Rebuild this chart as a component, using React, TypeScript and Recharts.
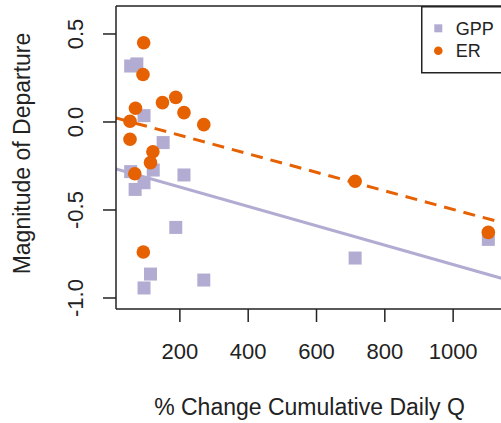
import React from 'react';
import {
  ComposedChart,
  Scatter,
  XAxis,
  YAxis,
  ReferenceLine,
} from 'recharts';

const seriesNames = ['GPP', 'ER'];

const gppX = [56, 74, 95, 151, 56, 122, 212, 95, 69, 188, 114, 95, 270, 713, 1103];
const gppY = [0.318, 0.33, 0.036, -0.117, -0.282, -0.273, -0.301, -0.345, -0.383, -0.599, -0.864, -0.943, -0.898, -0.773, -0.667];

const erX = [94, 92, 70, 149, 188, 212, 270, 54, 54, 121, 114, 68, 93, 713, 1103];
const erY = [0.45, 0.27, 0.078, 0.11, 0.14, 0.053, -0.015, 0.004, -0.098, -0.169, -0.231, -0.294, -0.739, -0.337, -0.627];

// fitted lines, endpoints
const gppFitX = [13, 1225];
const gppFitY = [-0.267, -0.934];
const erFitX = [13, 1225];
const erFitY = [0.023, -0.615];

const xTicks = [200, 400, 600, 800, 1000];
const yTicks = [-1, -0.5, 0, 0.5];
const xDomain = [13, 1225];
const yDomain = [-1.0625, 0.659];

const PURPLE = '#b2abd2';
const ORANGE = '#e66101';
const INK = '#222';
const FONT = '"Liberation Sans", Arial, sans-serif';

const zip = (xs: number[], ys: number[]) => xs.map((x, i) => ({ x, y: ys[i] }));
const gppData = zip(gppX, gppY);
const erData = zip(erX, erY);

const Square = (p: any) => (
  <rect x={p.cx - 6.5} y={p.cy - 6.5} width={13} height={13} fill={PURPLE} />
);
const Dot = (p: any) => <circle cx={p.cx} cy={p.cy} r={6.8} fill={ORANGE} />;

const XTick = (p: any) => (
  <text x={p.x} y={p.y + 35} textAnchor="middle" fontSize={22} fill={INK} fontFamily={FONT}>
    {p.payload.value}
  </text>
);

const YTick = (p: any) => {
  const bx = p.x - 17.5;
  return (
    <text
      x={bx}
      y={p.y}
      textAnchor="middle"
      fontSize={22}
      fill={INK}
      fontFamily={FONT}
      transform={`rotate(-90, ${bx}, ${p.y})`}
    >
      {Number(p.payload.value).toFixed(1)}
    </text>
  );
};

export default function App() {
  return (
    <div
      style={{
        position: 'absolute',
        left: 0,
        top: 0,
        width: 501,
        height: 423,
        overflow: 'hidden',
        background: 'white',
      }}
    >
      <ComposedChart width={540} height={423} margin={{ top: 6, right: 10, bottom: 0, left: 0 }}>
        <XAxis
          type="number"
          dataKey="x"
          domain={xDomain}
          ticks={xTicks}
          height={114}
          tickSize={13}
          tick={<XTick />}
          axisLine={{ stroke: INK, strokeWidth: 1.5 }}
          tickLine={{ stroke: INK, strokeWidth: 1.5 }}
          allowDataOverflow
        />
        <YAxis
          type="number"
          dataKey="y"
          domain={yDomain}
          ticks={yTicks}
          width={116}
          tickSize={13}
          tick={<YTick />}
          axisLine={{ stroke: INK, strokeWidth: 1.5 }}
          tickLine={{ stroke: INK, strokeWidth: 1.5 }}
          allowDataOverflow
        />
        <ReferenceLine y={yDomain[1]} stroke={INK} strokeWidth={1.5} />
        <Scatter name={seriesNames[0]} data={gppData} fill={PURPLE} shape={Square} isAnimationActive={false} />
        <Scatter name={seriesNames[1]} data={erData} fill={ORANGE} shape={Dot} isAnimationActive={false} />
        <ReferenceLine
          segment={zip(gppFitX, gppFitY)}
          stroke={PURPLE}
          strokeWidth={3}
          ifOverflow="hidden"
        />
        <ReferenceLine
          segment={zip(erFitX, erFitY)}
          stroke={ORANGE}
          strokeWidth={3}
          strokeDasharray="12 8"
          ifOverflow="hidden"
        />
      </ComposedChart>
      <svg
        width={501}
        height={423}
        style={{ position: 'absolute', left: 0, top: 0, pointerEvents: 'none' }}
      >
        <g transform="translate(421, 6)">
          <rect x={0.75} y={0.75} width={140} height={66} fill="white" stroke={INK} strokeWidth={1.5} />
          {seriesNames.map((name, i) => {
            const cy = 22.3 + i * 22.4;
            return (
              <g key={name}>
                {i === 0 ? (
                  <rect x={13.3} y={cy - 4} width={8} height={8} fill={PURPLE} />
                ) : (
                  <circle cx={17.3} cy={cy} r={4.3} fill={ORANGE} />
                )}
                <text x={34.7} y={cy + 6.7} fontSize={18} fill={INK} fontFamily={FONT}>
                  {name}
                </text>
              </g>
            );
          })}
        </g>
        <text
          x={30}
          y={153.5}
          textAnchor="middle"
          fontSize={23}
          fill={INK}
          fontFamily={FONT}
          transform="rotate(-90, 30, 153.5)"
        >
          Magnitude of Departure
        </text>
        <text x={309.5} y={415} textAnchor="middle" fontSize={23} fill={INK} fontFamily={FONT}>
          % Change Cumulative Daily Q
        </text>
      </svg>
    </div>
  );
}
